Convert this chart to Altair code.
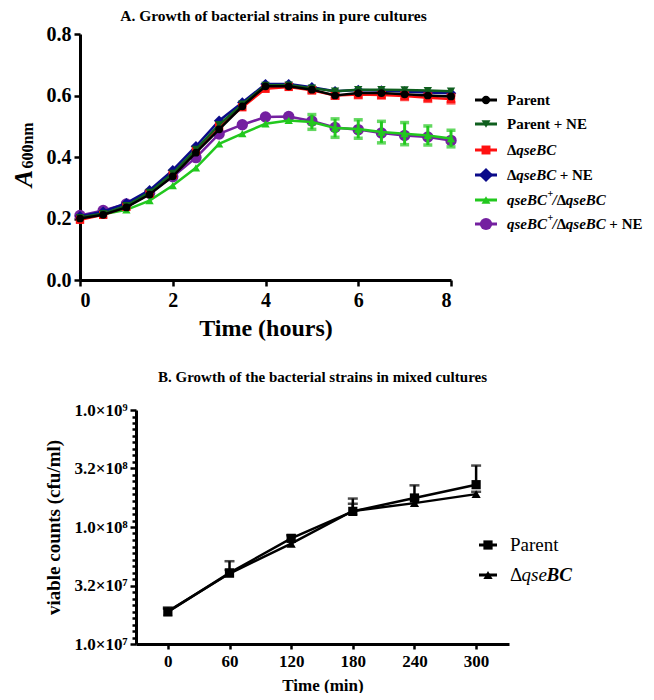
import altair as alt
import pandas as pd

# ---------------- Panel A data (A600nm vs time, hours) ----------------
time_h = [0, 0.5, 1, 1.5, 2, 2.5, 3, 3.5, 4, 4.5, 5, 5.5, 6, 6.5, 7, 7.5, 8]
parent = [0.200, 0.212, 0.236, 0.278, 0.337, 0.414, 0.490, 0.565, 0.630, 0.630, 0.619, 0.600, 0.608, 0.608, 0.604, 0.600, 0.597]
parent_ne = [0.203, 0.216, 0.242, 0.285, 0.347, 0.425, 0.505, 0.572, 0.633, 0.634, 0.624, 0.614, 0.619, 0.619, 0.618, 0.616, 0.614]
dqsebc = [0.196, 0.212, 0.238, 0.281, 0.342, 0.420, 0.500, 0.562, 0.622, 0.628, 0.617, 0.600, 0.603, 0.602, 0.598, 0.593, 0.589]
dqsebc_err = [0.004, 0.004, 0.004, 0.004, 0.005, 0.005, 0.005, 0.006, 0.007, 0.007, 0.008, 0.009, 0.010, 0.010, 0.011, 0.012, 0.013]
dqsebc_ne = [0.207, 0.222, 0.250, 0.292, 0.357, 0.435, 0.518, 0.577, 0.637, 0.637, 0.627, 0.614, 0.618, 0.616, 0.613, 0.610, 0.607]
comp = [0.200, 0.214, 0.228, 0.258, 0.307, 0.365, 0.443, 0.476, 0.508, 0.519, 0.514, 0.494, 0.491, 0.481, 0.476, 0.470, 0.460]
comp_err = [0.003, 0.003, 0.003, 0.003, 0.004, 0.004, 0.005, 0.006, 0.007, 0.008, 0.024, 0.030, 0.030, 0.035, 0.036, 0.031, 0.027]
comp_ne = [0.210, 0.226, 0.247, 0.282, 0.336, 0.398, 0.475, 0.505, 0.530, 0.532, 0.517, 0.496, 0.489, 0.478, 0.470, 0.465, 0.454]
zero_err = [0] * len(time_h)

series_values = [parent, parent_ne, dqsebc, dqsebc_ne, comp, comp_ne]
series_errors = [zero_err, zero_err, dqsebc_err, zero_err, comp_err, zero_err]
series_colors = ["#000000", "#0f5f1e", "#ff1010", "#0b0b8a", "#22c81e", "#7420a0"]
series_shapes = ["circle", "triangle-down", "square", "diamond", "triangle-up", "circle"]
series_sizes = [60, 70, 70, 110, 70, 130]
legend_sizes = [70, 80, 80, 200, 80, 150]
err_threshold = [1, 1, 0.008, 1, 0.01, 1]

# legend label segments: (text, style)
legend_rows = [
    [("Parent", "n")],
    [("Parent + NE", "n")],
    [("Δ", "n"), ("qseBC", "i")],
    [("Δ", "n"), ("qseBC", "i"), ("+ NE", "n")],
    [("qseBC", "i"), ("+", "s"), ("/", "i"), ("Δ", "n"), ("qseBC", "i")],
    [("qseBC", "i"), ("+", "s"), ("/", "i"), ("Δ", "n"), ("qseBC", "i"), ("+ NE", "n")],
]

# ---------------- Panel B data (viable counts vs time, min) ----------------
time_min = [0, 60, 120, 180, 240, 300]
b_parent = [1.88e7, 4.05e7, 8.0e7, 1.36e8, 1.77e8, 2.30e8]
b_parent_hi = [2.05e7, 5.1e7, 8.5e7, 1.75e8, 2.27e8, 3.35e8]
b_dq = [1.90e7, 4.0e7, 7.2e7, 1.37e8, 1.60e8, 1.91e8]
b_dq_hi = [2.0e7, 4.3e7, 7.6e7, 1.58e8, 1.72e8, 2.0e8]
b_names = ["Parent", "ΔqseBC"]
b_shapes = ["square", "triangle-up"]

FONT = "Liberation Serif"

# ================= Panel A =================
WA, HA = 371, 246
axA_x = alt.Axis(values=[0, 2, 4, 6, 8], format="d", title="Time (hours)",
                 titleFontSize=24, titlePadding=6, labelFontSize=20, labelPadding=4)
axA_y = alt.Axis(values=[0, 0.2, 0.4, 0.6, 0.8], format=".1f", title="A",
                 titleFontStyle="italic", titleFontSize=26, titleX=-57, titleY=144,
                 titleAlign="center", titleBaseline="middle",
                 labelFontSize=20, labelPadding=3)
scA_y = alt.Scale(domain=[0, 0.8], nice=False)
xA = alt.X("t:Q", scale=alt.Scale(domain=[0, 8], nice=False), axis=axA_x)


def yA(field):
    return alt.Y(field + ":Q", scale=scA_y, axis=axA_y)


def txt(label, x, y, size, style="normal", weight="bold", align="center", baseline="middle"):
    return alt.Chart(pd.DataFrame({"label": [label]})).mark_text(
        font=FONT, fontSize=size, fontStyle=style, fontWeight=weight,
        align=align, baseline=baseline, color="black").encode(
        x=alt.value(x), y=alt.value(y), text="label:N")


layersA = []
for i in reversed(range(6)):
    vals = series_values[i]
    errs = series_errors[i]
    df = pd.DataFrame({"t": time_h, "v": vals,
                       "lo": [v - e for v, e in zip(vals, errs)],
                       "hi": [v + e for v, e in zip(vals, errs)],
                       "e": errs})
    col = series_colors[i]
    dfe = df[df["e"] >= err_threshold[i]]
    if len(dfe):
        base_e = alt.Chart(dfe)
        layersA.append(base_e.mark_rule(color=col, strokeWidth=3).encode(x=xA, y=yA("lo"), y2="hi:Q"))
        for f in ["lo", "hi"]:
            layersA.append(base_e.mark_tick(orient="horizontal", color=col, thickness=3.5, size=9).encode(
                x=xA, y=yA(f)))
    base = alt.Chart(df)
    layersA.append(base.mark_line(color=col, strokeWidth=2.5).encode(x=xA, y=yA("v")))
    layersA.append(base.mark_point(filled=True, shape=series_shapes[i], size=series_sizes[i],
                                   color=col, opacity=1).encode(x=xA, y=yA("v")))

# custom legend A
leg_rows_y = [66, 90, 116, 141, 166, 190]
LEG_FS = 15
char_w = {"n": {"P": .611, "a": .5, "r": .444, "e": .444, "n": .556, "t": .333, " ": .25,
                "+": .57, "N": .722, "E": .667, "Δ": .612},
          "i": {"q": .5, "s": .389, "e": .444, "B": .667, "C": .667, "/": .278}}
for i in range(6):
    y = leg_rows_y[i]
    col = series_colors[i]
    dummy = alt.Chart(pd.DataFrame({"a": [0]}))
    layersA.append(dummy.mark_rule(color=col, strokeWidth=3).encode(
        x=alt.value(395), x2=alt.value(417), y=alt.value(y)))
    layersA.append(dummy.mark_point(filled=True, shape=series_shapes[i], size=legend_sizes[i],
                                    color=col, opacity=1).encode(x=alt.value(406), y=alt.value(y)))
    xcur = 427
    for text, st in legend_rows[i]:
        if text == "+ NE":
            xcur += 3
        if st == "s":
            layersA.append(txt(text, xcur, y - 6, 10, align="left"))
            xcur += 5.0
        else:
            layersA.append(txt(text, xcur, y, LEG_FS, style="italic" if st == "i" else "normal",
                               align="left"))
            xcur += sum(char_w[st].get(c, .5) for c in text) * LEG_FS
        if st == "i" and text == "qseBC":
            xcur += 0.5

innerA = alt.layer(*layersA)
# subscript "600nm" of the y title, carried by a second (label-less) axis
subA = alt.Chart(pd.DataFrame({"t": [0], "v": [0]})).mark_point(opacity=0).encode(
    x=xA,
    y=alt.Y("v:Q", scale=alt.Scale(domain=[0, 0.8], nice=False),
            axis=alt.Axis(orient="right", title="600nm", labels=False, ticks=False, domain=False,
                          titleFontSize=16, titleX=-WA - 53, titleY=111, titleAngle=270,
                          titleAlign="center", titleBaseline="middle")))

chartA = alt.layer(innerA, subA).resolve_scale(y="independent").properties(
    width=WA, height=HA,
    title=alt.TitleParams("A.  Growth of bacterial strains in pure cultures", font=FONT, fontSize=15.5,
                          fontWeight="bold", anchor="middle", dx=8, offset=0, color="black"))

# ================= Panel B =================
WB, HB = 373, 234
yticks = [10 ** (7 + k / 18) for k in range(37)]
is_major = "abs(2*log(datum.value)/LN10 - round(2*log(datum.value)/LN10)) < 0.001"
label_expr = ("(" + is_major + ") ? ((round(2*log(datum.value)/LN10) % 2 == 0 ? '1.0' : '3.2') + '×10' + "
              "['⁷','⁸','⁹'][floor(log(datum.value)/LN10 + 0.001) - 7]) : ''")
xB = alt.X("t:Q", scale=alt.Scale(domain=[-31, 332], nice=False, zero=False),
           axis=alt.Axis(values=time_min, format="d", title="Time (min)", titleFontSize=17,
                         titlePadding=8, labelFontSize=17, labelPadding=4, tickSize=5))
ysc = alt.Scale(type="log", domain=[1e7, 1e9], nice=False)
axB_y = alt.Axis(values=yticks, labelExpr=label_expr, title="viable counts (cfu/ml)",
                 titleFontSize=19, titlePadding=10, labelFontSize=17, labelPadding=3,
                 tickSize={"condition": {"test": is_major, "value": 6}, "value": 4},
                 tickWidth={"condition": {"test": is_major, "value": 2.5}, "value": 2.5},
                 labelOverlap=False)


def yB(field):
    return alt.Y(field + ":Q", scale=ysc, axis=axB_y)


layersB = []
b_vals = [b_parent, b_dq]
b_his = [b_parent_hi, b_dq_hi]
for i in [1, 0]:
    df = pd.DataFrame({"t": time_min, "v": b_vals[i], "hi": b_his[i]})
    base = alt.Chart(df)
    layersB.append(base.mark_rule(color="black", strokeWidth=2.5).encode(x=xB, y=yB("v"), y2="hi:Q"))
    layersB.append(base.mark_tick(orient="horizontal", color="black", thickness=2.5, size=10).encode(
        x=xB, y=yB("hi")))
    layersB.append(base.mark_line(color="black", strokeWidth=2.5).encode(x=xB, y=yB("v")))
    layersB.append(base.mark_point(filled=True, shape=b_shapes[i], size=85, color="black",
                                   opacity=1).encode(x=xB, y=yB("v")))

# legend B
legB_y = [135, 165]
for i in range(2):
    dummy = alt.Chart(pd.DataFrame({"a": [0]}))
    y = legB_y[i]
    layersB.append(dummy.mark_rule(color="black", strokeWidth=3).encode(
        x=alt.value(343), x2=alt.value(361), y=alt.value(y)))
    layersB.append(dummy.mark_point(filled=True, shape=b_shapes[i], size=85, color="black",
                                    opacity=1).encode(x=alt.value(352), y=alt.value(y)))
layersB.append(txt("Parent", 374, legB_y[0], 19, weight="normal", align="left"))
layersB.append(txt("Δ", 374, legB_y[1], 19, weight="normal", align="left"))
layersB.append(txt("qse", 385.6, legB_y[1], 19, weight="normal", style="italic", align="left"))
layersB.append(txt("BC", 410.5, legB_y[1], 19, weight="bold", style="italic", align="left"))

chartB = alt.layer(*layersB).properties(
    width=WB, height=HB,
    title=alt.TitleParams("B.  Growth of the bacterial strains in mixed cultures", font=FONT, fontSize=15,
                          fontWeight="bold", anchor="middle", offset=16, color="black"))


def spacer(w, h):
    return alt.Chart(pd.DataFrame({"a": [0]})).mark_point(opacity=0, size=1).encode(
        x=alt.value(0), y=alt.value(0)).properties(width=w, height=h)


rowA = alt.hconcat(spacer(1, 1), chartA, spacing=0)
rowB = alt.hconcat(spacer(32, 1), chartB, spacing=3)

chart = alt.vconcat(rowA, rowB, spacing=30).properties(
    padding={"left": 0, "right": 0, "top": 0, "bottom": 0}).configure_view(
    stroke=None).configure_axis(
    grid=False, labelFont=FONT, titleFont=FONT, labelFontWeight="bold", titleFontWeight="bold",
    labelColor="black", titleColor="black", domainColor="black", tickColor="black",
    domainWidth=3, tickWidth=2.5, tickSize=6)

chart.save("out.html", embed_options={"renderer": "svg", "actions": False})
